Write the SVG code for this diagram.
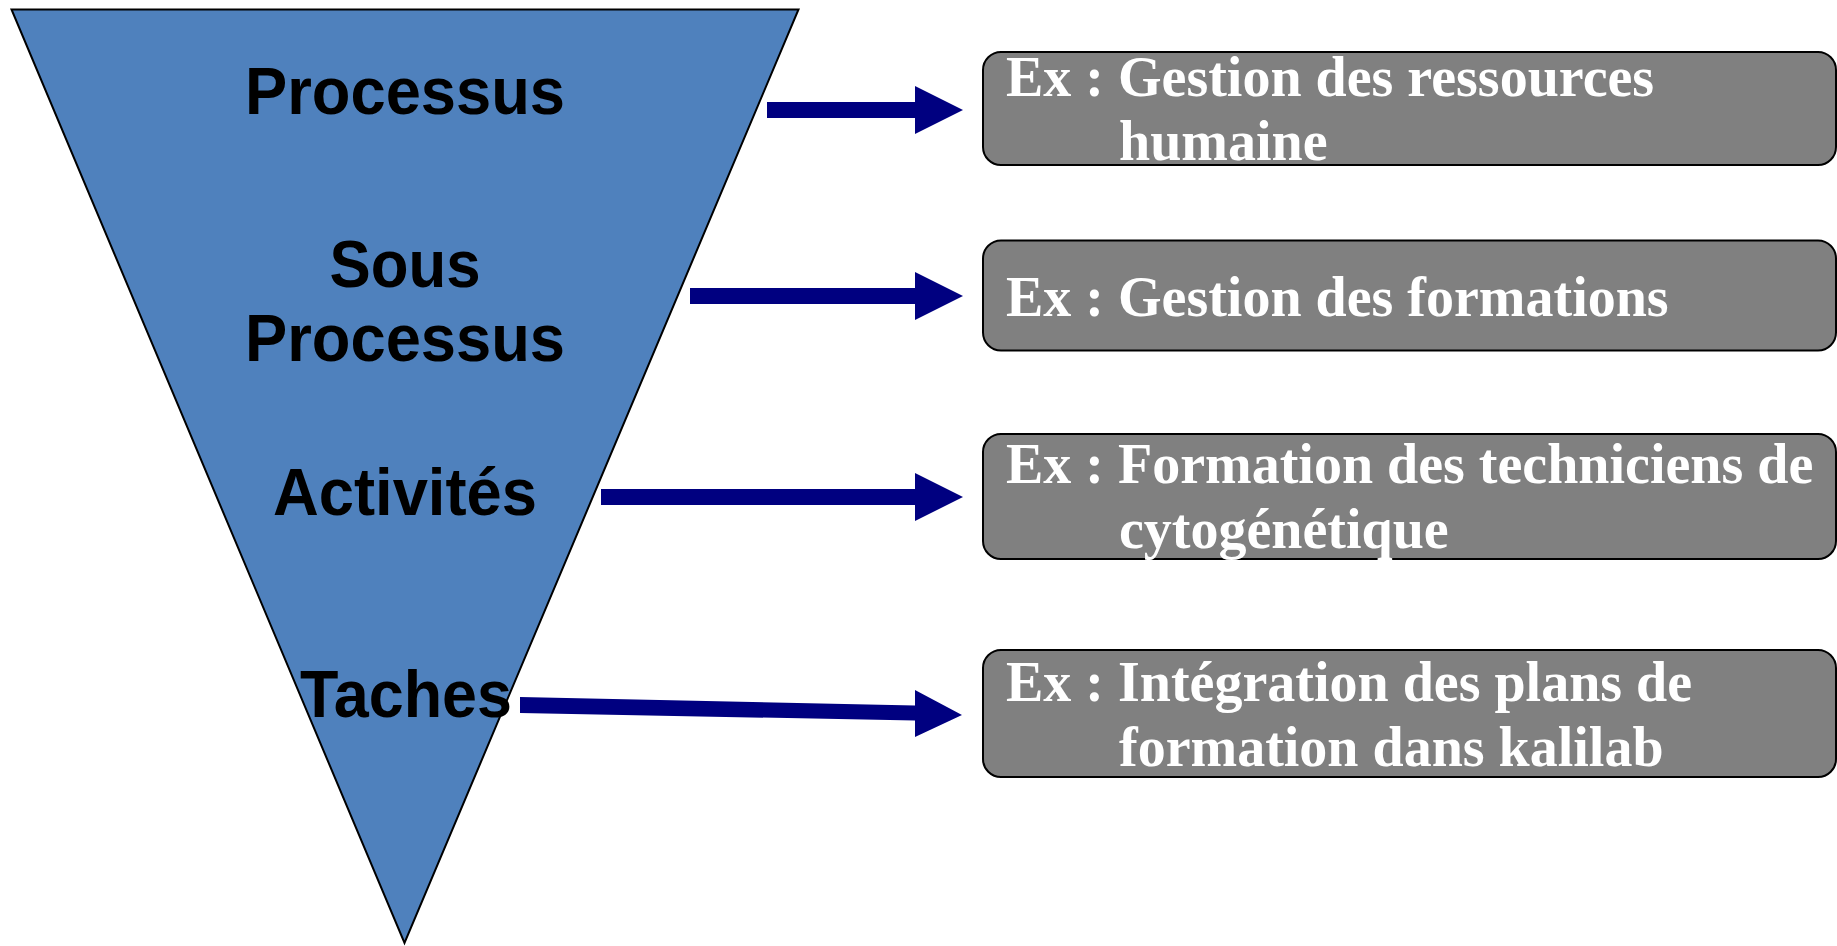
<svg xmlns="http://www.w3.org/2000/svg" width="1837" height="946" viewBox="0 0 1837 946">
  <style>
    .level { font-family: "Liberation Sans", Arial, sans-serif; font-weight: bold; font-size: 67px; fill: #000; text-anchor: middle; }
    .box { fill: #808080; stroke: #000; stroke-width: 2; }
    .ex { font-family: "Liberation Serif", "Times New Roman", serif; font-weight: bold; font-size: 56px; fill: #fff; }
    .arrow { fill: #000080; }
  </style>

  <!-- Inverted funnel of levels -->
  <g id="funnel">
    <polygon points="11.5,9.5 798.5,9.5 404.5,943" fill="#4F81BD" stroke="#000" stroke-width="2" stroke-linejoin="miter"/>
    <text class="level" x="405" y="114" textLength="320" lengthAdjust="spacingAndGlyphs">Processus</text>
    <text class="level" x="405" y="287" textLength="151" lengthAdjust="spacingAndGlyphs">Sous</text>
    <text class="level" x="405" y="361" textLength="320" lengthAdjust="spacingAndGlyphs">Processus</text>
    <text class="level" x="405" y="515" textLength="264" lengthAdjust="spacingAndGlyphs">Activités</text>
    <text class="level" x="406" y="717" textLength="212" lengthAdjust="spacingAndGlyphs">Taches</text>
  </g>

  <!-- Connectors -->
  <g id="connectors">
    <polygon class="arrow" points="767,102 915,102 915,86 963,110 915,134 915,118 767,118"/>
    <polygon class="arrow" points="690,288 915,288 915,272 963,296 915,320 915,304 690,304"/>
    <polygon class="arrow" points="601,489 915,489 915,473 963,497 915,521 915,505 601,505"/>
    <polygon class="arrow" points="520,697 915,705.5 915,690 962,715 915,737 915,720.5 520,713"/>
  </g>

  <!-- Example boxes -->
  <g id="ex-processus">
    <rect class="box" x="983" y="52" width="853" height="113" rx="18" ry="18"/>
    <text class="ex" x="1006" y="96">Ex : Gestion des ressources</text>
    <text class="ex" x="1119" y="160">humaine</text>
  </g>
  <g id="ex-sous-processus">
    <rect class="box" x="983" y="240.5" width="853" height="110" rx="18" ry="18"/>
    <text class="ex" x="1006" y="316">Ex : Gestion des formations</text>
  </g>
  <g id="ex-activites">
    <rect class="box" x="983" y="434" width="853" height="125" rx="18" ry="18"/>
    <text class="ex" x="1006" y="483">Ex : Formation des techniciens de</text>
    <text class="ex" x="1119" y="548">cytogénétique</text>
  </g>
  <g id="ex-taches">
    <rect class="box" x="983" y="650" width="853" height="127" rx="18" ry="18"/>
    <text class="ex" x="1006" y="701">Ex : Intégration des plans de</text>
    <text class="ex" x="1119" y="766">formation dans kalilab</text>
  </g>
</svg>
